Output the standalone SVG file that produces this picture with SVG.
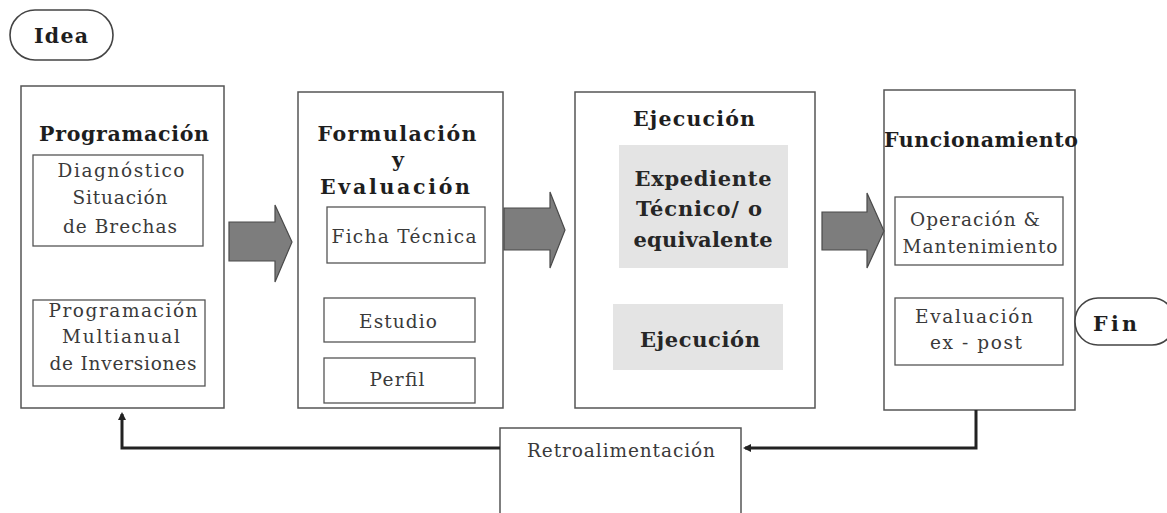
<svg xmlns="http://www.w3.org/2000/svg" width="1167" height="513" viewBox="0 0 1167 513">
<style>
.box{fill:#fff;stroke:#555;stroke-width:1.5}
.sub{fill:#fff;stroke:#555;stroke-width:1.3}
.gray{fill:#e4e4e4;stroke:none}
.term{fill:#fff;stroke:#444;stroke-width:1.6}
.t{font-family:"DejaVu Serif","Liberation Serif",serif;fill:#2a2a2a;text-anchor:middle}
.b{font-weight:bold;font-size:20.5px;fill:#1e1e1e}
.n{font-size:18.5px;fill:#3a3a3a}
.g{font-weight:bold;font-size:21px;fill:#262626}
.arr{fill:#7d7d7d;stroke:#4a4a4a;stroke-width:1.2}
.fb{fill:none;stroke:#222;stroke-width:3}
</style>
<defs>
<marker id="ah" markerWidth="8" markerHeight="8" refX="6" refY="4" orient="auto" markerUnits="userSpaceOnUse" viewBox="0 0 8 8">
<path d="M0,0 L8,4 L0,8 z" fill="#222"/>
</marker>
</defs>

<g id="idea">
<rect class="term" x="10" y="10" width="103" height="50" rx="25" ry="25"/>
<text class="t b" x="61" y="43" font-size="19.5" textLength="54" lengthAdjust="spacing">Idea</text>
</g>

<g id="programacion">
<rect class="box" x="21" y="86" width="203" height="322"/>
<text class="t b" x="124" y="141" textLength="170" lengthAdjust="spacing">Programación</text>
<rect class="sub" x="33" y="155" width="170" height="91"/>
<text class="t n" x="121" y="177" textLength="127" lengthAdjust="spacing">Diagnóstico</text>
<text class="t n" x="120" y="204" textLength="95" lengthAdjust="spacing">Situación</text>
<text class="t n" x="120" y="233" textLength="114" lengthAdjust="spacing">de Brechas</text>
<rect class="sub" x="33" y="300" width="172" height="86"/>
<text class="t n" x="123" y="317" textLength="149" lengthAdjust="spacing">Programación</text>
<text class="t n" x="121" y="343" textLength="118" lengthAdjust="spacing">Multianual</text>
<text class="t n" x="123" y="370" textLength="147" lengthAdjust="spacing">de Inversiones</text>
</g>

<g id="formulacion">
<rect class="box" x="298" y="92" width="205" height="316"/>
<text class="t b" x="397" y="141" textLength="159" lengthAdjust="spacing">Formulación</text>
<text class="t b" x="398" y="167">y</text>
<text class="t b" x="395" y="194" textLength="150" lengthAdjust="spacing">Evaluación</text>
<rect class="sub" x="327" y="207" width="158" height="56"/>
<text class="t n" x="404" y="243" textLength="145" lengthAdjust="spacing">Ficha Técnica</text>
<rect class="sub" x="324" y="298" width="151" height="44"/>
<text class="t n" x="398" y="328" textLength="78" lengthAdjust="spacing">Estudio</text>
<rect class="sub" x="324" y="358" width="151" height="45"/>
<text class="t n" x="397" y="386" textLength="55" lengthAdjust="spacing">Perfil</text>
</g>

<g id="ejecucion">
<rect class="box" x="575" y="92" width="240" height="316"/>
<text class="t b" x="694" y="126" textLength="122" lengthAdjust="spacing">Ejecución</text>
<rect class="gray" x="619" y="145" width="169" height="123"/>
<text class="t g" x="703" y="186" textLength="137" lengthAdjust="spacing">Expediente</text>
<text class="t g" x="699" y="216" textLength="126" lengthAdjust="spacing">Técnico/ o</text>
<text class="t g" x="703" y="247" textLength="139" lengthAdjust="spacing">equivalente</text>
<rect class="gray" x="613" y="304" width="170" height="66"/>
<text class="t g" x="700" y="347" textLength="120" lengthAdjust="spacing">Ejecución</text>
</g>

<g id="funcionamiento">
<rect class="box" x="884" y="90" width="191" height="320"/>
<text class="t b" x="981" y="147" textLength="194" lengthAdjust="spacing">Funcionamiento</text>
<rect class="sub" x="895" y="197" width="168" height="68"/>
<text class="t n" x="975" y="226" textLength="130" lengthAdjust="spacing">Operación &amp;</text>
<text class="t n" x="980" y="253" textLength="155" lengthAdjust="spacing">Mantenimiento</text>
<rect class="sub" x="895" y="298" width="168" height="67"/>
<text class="t n" x="974" y="323" textLength="118" lengthAdjust="spacing">Evaluación</text>
<text class="t n" x="976" y="349" textLength="92" lengthAdjust="spacing">ex - post</text>
</g>

<g id="fin">
<rect class="term" x="1075" y="298" width="100" height="47" rx="23" ry="23"/>
<text class="t b" x="1115" y="331" font-size="19.5" textLength="44" lengthAdjust="spacing">Fin</text>
</g>

<g id="retroalimentacion">
<rect class="box" x="500" y="428" width="241" height="95"/>
<text class="t n" x="621" y="457" textLength="188" lengthAdjust="spacing">Retroalimentación</text>
</g>

<g id="connectors">
<path class="arr" d="M229,222 L275,222 L275,205 L292,242 L275,282 L275,261 L229,261 z"/>
<path class="arr" d="M504,208 L550,208 L550,192 L565,230 L550,268 L550,250 L504,250 z"/>
<path class="arr" d="M822,212 L867,212 L867,193 L884,231 L867,268 L867,250 L822,250 z"/>
<path class="fb" d="M976,410 L976,448 L745,448" marker-end="url(#ah)"/>
<path class="fb" d="M500,448 L122,448 L122,414" marker-end="url(#ah)"/>
</g>
</svg>
